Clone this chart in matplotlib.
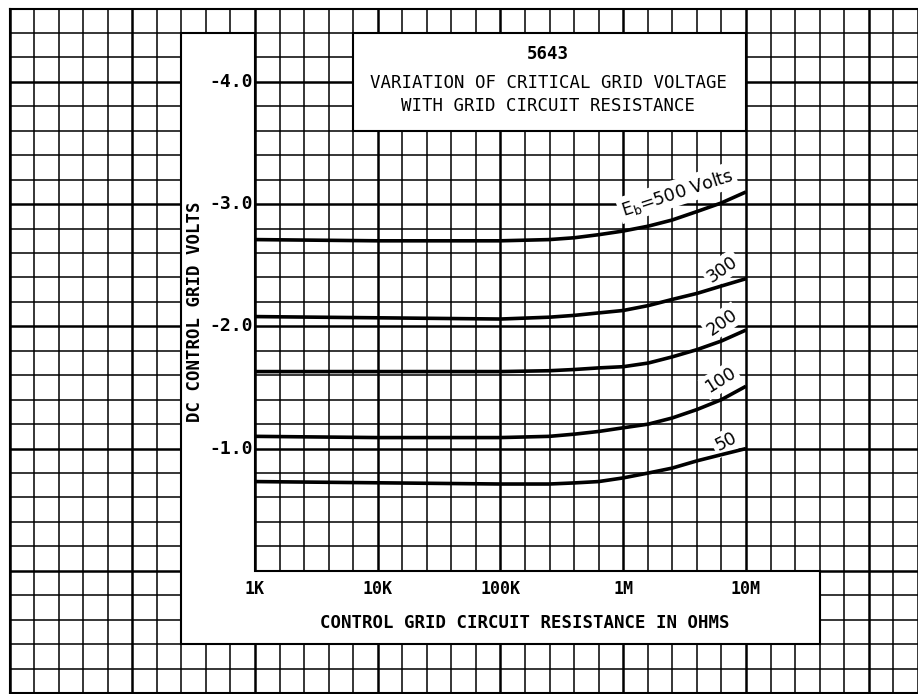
import numpy as np
import matplotlib
matplotlib.use("Agg")
import matplotlib.pyplot as plt
from matplotlib.patches import Polygon

# ---------------- data ----------------
resistance_ohms = [1e3, 1e4, 1e5, 2.5e5, 4e5, 6.3e5, 1e6, 1.6e6, 2.5e6, 4e6, 6.3e6, 1e7]
eb500 = [-2.71, -2.70, -2.70, -2.71, -2.725, -2.75, -2.78, -2.82, -2.87, -2.94, -3.01, -3.10]
eb300 = [-2.08, -2.07, -2.06, -2.075, -2.09, -2.11, -2.13, -2.17, -2.22, -2.27, -2.33, -2.39]
eb200 = [-1.63, -1.63, -1.63, -1.637, -1.647, -1.66, -1.67, -1.70, -1.75, -1.81, -1.88, -1.97]
eb100 = [-1.10, -1.09, -1.09, -1.10, -1.118, -1.14, -1.17, -1.20, -1.25, -1.32, -1.40, -1.51]
eb50 = [-0.73, -0.72, -0.71, -0.71, -0.719, -0.73, -0.76, -0.80, -0.84, -0.90, -0.95, -1.00]
series = [eb500, eb300, eb200, eb100, eb50]
curve_labels = [r"E$_\mathrm{b}$=500 Volts", "300", "200", "100", "50"]

xtick_values = [1e3, 1e4, 1e5, 1e6, 1e7]
xtick_labels = ["1K", "10K", "100K", "1M", "10M"]
ytick_values = [-4.0, -3.0, -2.0, -1.0]
ytick_labels = ["-4.0", "-3.0", "-2.0", "-1.0"]

title_number = "5643"
title_lines = ["VARIATION OF CRITICAL GRID VOLTAGE", "WITH GRID CIRCUIT RESISTANCE"]
xlabel = "CONTROL GRID CIRCUIT RESISTANCE IN OHMS"
ylabel = "DC CONTROL GRID VOLTS"

# ---------------- figure: graph paper axes ----------------
W, H = 918, 694
fig = plt.figure(figsize=(W / 100, H / 100), dpi=100)
fig.patch.set_facecolor("white")
ax = fig.add_axes([9.5 / W, 1 / H, 1 - 9.5 / W, (693 - 8.6) / H])
ax.set_xscale("log")
ax.set_xlim(10 ** 1.0, 10 ** 8.4013)
ax.set_ylim(1.0, -4.6)

# uniform paper grid: 5 cells per decade, 5 cells per volt
ax.set_xticks(10 ** np.arange(1.0, 9.0, 1.0))
ax.set_xticks(10 ** np.round(np.arange(1.0, 8.41, 0.2), 2), minor=True)
ax.set_yticks(np.arange(-4.0, 1.01, 1.0))
ax.set_yticks(np.round(np.arange(-4.6, 1.01, 0.2), 2), minor=True)
ax.tick_params(which="both", length=0, labelbottom=False, labelleft=False)
ax.set_axisbelow(True)
ax.grid(which="major", color="black", lw=1.8)
ax.grid(which="minor", color="black", lw=1.1)
for s in ["left", "top", "bottom"]:
    ax.spines[s].set_linewidth(1.5)
ax.spines["right"].set_visible(False)

mono = "DejaVu Sans Mono"

# white areas of the paper for lettering
lx0, lx1, lx2 = 10 ** 2.4, 10 ** 3.0, 10 ** 7.6
label_area = Polygon([(lx0, -4.4), (lx1, -4.4), (lx1, 0.0), (lx2, 0.0),
                      (lx2, 0.6), (lx0, 0.6)], closed=True,
                     facecolor="white", edgecolor="black", lw=1.5, zorder=2)
ax.add_patch(label_area)
tx0, tx1 = 10 ** 3.8, 10 ** 7.0
title_area = Polygon([(tx0, -4.4), (tx1, -4.4), (tx1, -3.6), (tx0, -3.6)],
                     closed=True, facecolor="white", edgecolor="black",
                     lw=1.5, zorder=2)
ax.add_patch(title_area)

# curves (drawn above the white label boxes)
for vals in series:
    ax.plot(resistance_ohms, vals, color="black", lw=2.6,
            solid_capstyle="butt", solid_joinstyle="round", zorder=6)

# curve labels
label_pos = [(10 ** 6.438, -3.095, 18), (10 ** 6.804, -2.468, 35),
             (10 ** 6.804, -2.035, 35), (10 ** 6.79, -1.56, 32),
             (10 ** 6.837, -1.055, 27)]
for txt, (xp, yp, rot) in zip(curve_labels, label_pos):
    ax.text(xp, yp, txt, rotation=rot, ha="center", va="center",
            fontsize=12.5, family="DejaVu Sans", rotation_mode="anchor",
            bbox=dict(facecolor="white", edgecolor="none", pad=2.0),
            zorder=5)

# tick labels
for v, t in zip(ytick_values, ytick_labels):
    ax.text(10 ** 2.98, v, t, ha="right", va="center", fontsize=13,
            family=mono, weight="bold", zorder=6)
for v, t in zip(xtick_values, xtick_labels):
    ax.text(v, 0.145, t, ha="center", va="center", fontsize=12,
            family=mono, weight="bold", zorder=6)

# titles and axis labels
fig.text(548 / W, 1 - 54 / H, title_number, ha="center", va="center",
         fontsize=12.5, family=mono, weight="bold")
fig.text(549 / W, 1 - 83 / H, title_lines[0], ha="center", va="center",
         fontsize=12.5, family=mono)
fig.text(548 / W, 1 - 106 / H, title_lines[1], ha="center", va="center",
         fontsize=12.5, family=mono)
fig.text(524.5 / W, 1 - 623 / H, xlabel, ha="center", va="center",
         fontsize=12.5, family=mono, weight="bold")
fig.text(195 / W, 1 - 312 / H, ylabel, ha="center", va="center",
         rotation=90, fontsize=12.5, family=mono, weight="bold")

fig.savefig("out.png", dpi=100, facecolor="white")
